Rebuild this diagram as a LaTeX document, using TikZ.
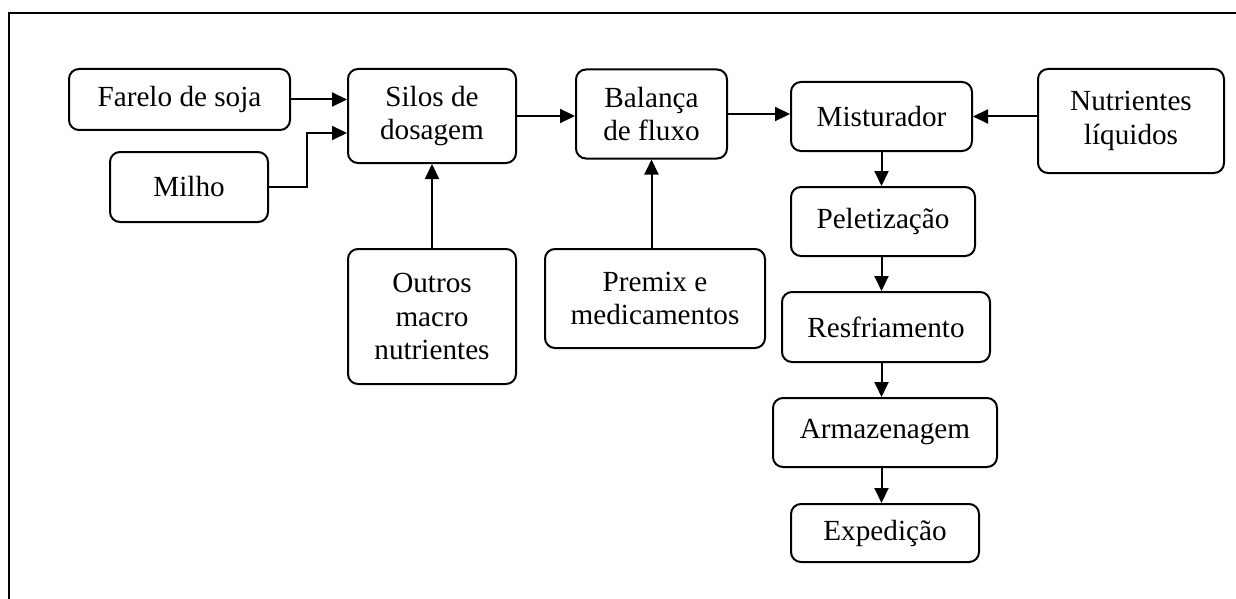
\documentclass[tikz,border=0pt]{standalone}
\usepackage{fontspec}
\setmainfont{Liberation Serif}
\usetikzlibrary{arrows.meta}
\begin{document}
\begin{tikzpicture}[x=0.5pt,y=-0.5pt,
  box/.style={draw,line width=1pt,rounded corners=5pt,align=center,inner sep=0pt,
    font=\fontsize{14.6}{16.6}\selectfont},
  arr/.style={line width=1pt,-{Triangle[length=7.5pt,width=7pt]}}]
\useasboundingbox (0,0) rectangle (1236,599);
% open frame: top and left edges
\draw[line width=1.4pt] (9,599) -- (9,13) -- (1236,13);

% input and processing boxes
\node[box,minimum width=110.5pt,minimum height=30.5pt] (soja) at (179.5,99.5) {Farelo de soja};
\node[box,minimum width=79pt,minimum height=35pt] (milho) at (189,187) {Milho};
\node[box,minimum width=84pt,minimum height=47pt] (silos) at (432,116) {Silos de\\dosagem};
\node[box,minimum width=75.5pt,minimum height=44.5pt] (balanca) at (651.5,114) {Balança\\de fluxo};
\node[box,minimum width=90.5pt,minimum height=34.5pt] (mist) at (881.5,116.5) {Misturador};
\node[box,minimum width=93pt,minimum height=52pt] (nutr) at (1131,121) {Nutrientes\\líquidos};
\node[box,minimum width=92pt,minimum height=34.5pt] (pelet) at (883,221.5) {Peletização};
\node[box,minimum width=104pt,minimum height=35pt] (resf) at (886,327) {Resfriamento};
\node[box,minimum width=112pt,minimum height=34.5pt] (armaz) at (885,432.5) {Armazenagem};
\node[box,minimum width=94pt,minimum height=29pt] (exped) at (885,533) {Expedição};
\node[box,minimum width=84pt,minimum height=67.5pt] (outros) at (432,316.5) {Outros\\macro\\nutrientes};
\node[box,minimum width=110pt,minimum height=49.5pt] (premix) at (655,298.5) {Premix e\\medicamentos};

% connectors
\coordinate (mj) at (307,133);
\draw[arr] (soja.east) -- (soja.east -| silos.west);
\draw[arr] (milho.east) -| (mj) -- (mj -| silos.west);
\draw[arr] (outros.north) -- (silos.south);
\draw[arr] (silos.east) -- (silos.east -| balanca.west);
\draw[arr] (premix.north -| balanca.south) -- (balanca.south);
\draw[arr] (balanca.east) -- (balanca.east -| mist.west);
\draw[arr] (nutr.west |- mist.east) -- (mist.east);
\draw[arr] (mist.south) -- (mist.south |- pelet.north);
\draw[arr] (pelet.south -| mist.south) -- (mist.south |- resf.north);
\draw[arr] (resf.south -| mist.south) -- (mist.south |- armaz.north);
\draw[arr] (armaz.south -| mist.south) -- (mist.south |- exped.north);
\end{tikzpicture}
\end{document}
